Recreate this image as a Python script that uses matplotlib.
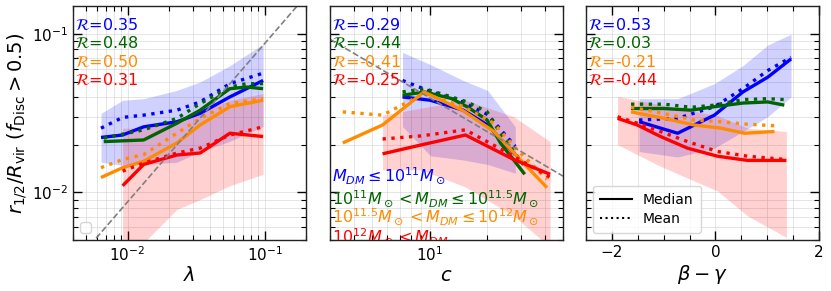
import numpy as np
import matplotlib
matplotlib.use("Agg")
import matplotlib.pyplot as plt
from matplotlib.ticker import MultipleLocator
from matplotlib.lines import Line2D

# ---------------- Panel 1: lambda ----------------
lam_blue_x = [0.0064, 0.0092, 0.0131, 0.0229, 0.0338, 0.0557, 0.0973]
lam_blue_med = [0.0222, 0.0230, 0.0259, 0.0279, 0.0315, 0.0400, 0.0508]
lam_blue_mean = [0.0254, 0.0297, 0.0307, 0.0330, 0.0372, 0.0485, 0.0565]
lam_blue_hi = [0.0315, 0.0381, 0.0390, 0.0440, 0.0497, 0.0630, 0.0862]
lam_blue_lo = [0.0155, 0.0148, 0.0150, 0.0155, 0.0180, 0.0210, 0.0260]

lam_green_x = [0.0067, 0.0131, 0.0229, 0.0338, 0.0557, 0.0736, 0.0973]
lam_green_med = [0.0209, 0.0214, 0.0273, 0.0330, 0.0451, 0.0462, 0.0451]
lam_green_mean = [0.0220, 0.0248, 0.0293, 0.0363, 0.0462, 0.0485, 0.0485]

lam_orange_x = [0.0064, 0.0092, 0.0131, 0.0229, 0.0338, 0.0557, 0.0973]
lam_orange_med = [0.0124, 0.0143, 0.0157, 0.0205, 0.0266, 0.0347, 0.0381]
lam_orange_mean = [0.0143, 0.0161, 0.0173, 0.0236, 0.0293, 0.0363, 0.0390]

lam_red_x = [0.0092, 0.0131, 0.0229, 0.0338, 0.0557, 0.0973]
lam_red_med = [0.0110, 0.0150, 0.0172, 0.0177, 0.0236, 0.0225]
lam_red_mean = [0.0136, 0.0153, 0.0177, 0.0190, 0.0230, 0.0259]
lam_red_hi = [0.0254, 0.0254, 0.0286, 0.0322, 0.0381, 0.0420]
lam_red_lo = [0.0030, 0.0048, 0.0078, 0.0090, 0.0110, 0.0130]
lam_R = ["0.35", "0.48", "0.50", "0.31"]

# ---------------- Panel 2: c ----------------
c_blue_x = [7.2, 10.1, 15.0, 20.1, 28.1]
c_blue_med = [0.0400, 0.0381, 0.0330, 0.0266, 0.0173]
c_blue_mean = [0.0508, 0.0433, 0.0370, 0.0310, 0.0195]
c_blue_hi = [0.0764, 0.0640, 0.0508, 0.0440, 0.0259]
c_blue_lo = [0.0260, 0.0170, 0.0160, 0.0150, 0.0132]

c_green_x = [7.2, 9.4, 13.0, 15.7, 20.0, 23.5, 31.5]
c_green_med = [0.0410, 0.0430, 0.0391, 0.0347, 0.0286, 0.0205, 0.0130]
c_green_mean = [0.0430, 0.0451, 0.0400, 0.0372, 0.0322, 0.0236, 0.0146]

c_orange_x = [3.5, 5.66, 9.33, 14.8, 21.7, 28.7, 41.2]
c_orange_med = [0.0205, 0.0266, 0.0430, 0.0330, 0.0242, 0.0169, 0.0107]
c_orange_mean = [0.0322, 0.0307, 0.0420, 0.0350, 0.0273, 0.0186, 0.0121]

c_red_x = [5.66, 9.0, 15.4, 27.6, 42.8]
c_red_med = [0.0175, 0.0199, 0.0230, 0.0161, 0.0130]
c_red_mean = [0.0217, 0.0227, 0.0248, 0.0169, 0.0124]
c_red_hi = [0.0307, 0.0340, 0.0381, 0.0300, 0.0209]
c_red_lo = [0.0139, 0.0139, 0.0108, 0.0071, 0.0045]
c_R = ["-0.29", "-0.44", "-0.41", "-0.25"]

# ---------------- Panel 3: beta - gamma ----------------
bg_blue_x = [-1.475, -0.73, -0.02, 0.53, 1.01, 1.46]
bg_blue_med = [0.0279, 0.0236, 0.0307, 0.0430, 0.0533, 0.0695]
bg_blue_mean = [0.0286, 0.0293, 0.0347, 0.0451, 0.0587, 0.0711]
bg_blue_hi = [0.0390, 0.0390, 0.0485, 0.0630, 0.0850, 0.0995]
bg_blue_lo = [0.0181, 0.0167, 0.0190, 0.0242, 0.0300, 0.0400]

bg_green_x = [-1.63, -0.99, -0.47, -0.02, 0.53, 1.01, 1.33]
bg_green_med = [0.0338, 0.0338, 0.0330, 0.0347, 0.0366, 0.0372, 0.0355]
bg_green_mean = [0.0360, 0.0360, 0.0344, 0.0355, 0.0385, 0.0390, 0.0385]

bg_orange_x = [-1.63, -0.99, -0.41, 0.11, 0.56, 1.14]
bg_orange_med = [0.0322, 0.0293, 0.0266, 0.0254, 0.0236, 0.0242]
bg_orange_mean = [0.0344, 0.0314, 0.0286, 0.0279, 0.0270, 0.0263]

bg_red_x = [-1.89, -1.51, -1.06, -0.54, 0.04, 0.62, 1.37]
bg_red_med = [0.0293, 0.0266, 0.0225, 0.0190, 0.0169, 0.0159, 0.0159]
bg_red_mean = [0.0300, 0.0273, 0.0242, 0.0209, 0.0181, 0.0169, 0.0161]
bg_red_hi = [0.0403, 0.0381, 0.0357, 0.0330, 0.0305, 0.0254, 0.0242]
bg_red_lo = [0.0200, 0.0173, 0.0146, 0.0123, 0.0102, 0.0071, 0.0052]
bg_R = ["0.53", "0.03", "-0.21", "-0.44"]

mass_labels = [r"$M_{DM} \leq 10^{11}M_\odot$",
               r"$10^{11}M_\odot < M_{DM} \leq 10^{11.5}M_\odot$",
               r"$10^{11.5}M_\odot < M_{DM} \leq 10^{12}M_\odot$",
               r"$10^{12}M_\odot < M_{DM}$"]

colors = ["blue", "darkgreen", "darkorange", "red"]

W, H = 831, 291
fig = plt.figure(figsize=(W / 100, H / 100), dpi=100)

def add_ax(x0, x1, y0=6, y1=240):
    return fig.add_axes([x0 / W, 1 - y1 / H, (x1 - x0) / W, (y1 - y0) / H])

ax1 = add_ax(73, 306)
ax2 = add_ax(330, 563)
ax3 = add_ax(586, 819)
axes = [ax1, ax2, ax3]

LW = 2.4

def draw(ax, series, bands):
    for (x, lo, hi, col) in bands:
        ax.fill_between(x, lo, hi, color=col, alpha=0.18, lw=0)
    for (x, med, mean, col) in series:
        ax.plot(x, med, color=col, lw=LW, ls="-", solid_capstyle="butt")
        ax.plot(x, mean, color=col, lw=LW, ls=":")

draw(ax1,
     [(lam_blue_x, lam_blue_med, lam_blue_mean, colors[0]),
      (lam_green_x, lam_green_med, lam_green_mean, colors[1]),
      (lam_orange_x, lam_orange_med, lam_orange_mean, colors[2]),
      (lam_red_x, lam_red_med, lam_red_mean, colors[3])],
     [(lam_blue_x, lam_blue_lo, lam_blue_hi, "blue"),
      (lam_red_x, lam_red_lo, lam_red_hi, "red")])
draw(ax2,
     [(c_blue_x, c_blue_med, c_blue_mean, colors[0]),
      (c_green_x, c_green_med, c_green_mean, colors[1]),
      (c_orange_x, c_orange_med, c_orange_mean, colors[2]),
      (c_red_x, c_red_med, c_red_mean, colors[3])],
     [(c_blue_x, c_blue_lo, c_blue_hi, "blue"),
      (c_red_x, c_red_lo, c_red_hi, "red")])
draw(ax3,
     [(bg_blue_x, bg_blue_med, bg_blue_mean, colors[0]),
      (bg_green_x, bg_green_med, bg_green_mean, colors[1]),
      (bg_orange_x, bg_orange_med, bg_orange_mean, colors[2]),
      (bg_red_x, bg_red_med, bg_red_mean, colors[3])],
     [(bg_blue_x, bg_blue_lo, bg_blue_hi, "blue"),
      (bg_red_x, bg_red_lo, bg_red_hi, "red")])

# reference dashed lines
xl = np.logspace(np.log10(0.004), np.log10(0.2), 50)
ax1.plot(xl, 0.87 * xl, color="grey", ls="--", lw=1.2)
xc = np.logspace(np.log10(3), np.log10(50), 50)
ax2.plot(xc, 0.201 * xc ** -0.707, color="grey", ls="--", lw=1.2)

ax1.set_xscale("log")
ax2.set_xscale("log")
ax1.set_xlim(0.004, 0.2)
ax2.set_xlim(3, 50)
ax3.set_xlim(-2.5, 2)
ax3.xaxis.set_major_locator(MultipleLocator(2))
ax3.xaxis.set_minor_locator(MultipleLocator(0.5))

for ax in axes:
    ax.set_yscale("log")
    ax.set_ylim(0.005, 0.15)
    ax.grid(True, which="both", color="#cccccc", lw=0.6, alpha=0.6)
    ax.set_axisbelow(True)
    ax.tick_params(which="both", direction="in", top=True, right=True, labelsize=11)
    ax.tick_params(which="major", length=6.5, width=1.0)
    ax.tick_params(which="minor", length=3.5, width=0.8)
    for s in ax.spines.values():
        s.set_linewidth(1.0)
        s.set_color("#222222")

ax2.tick_params(which="both", labelleft=False)
ax3.tick_params(which="both", labelleft=False)

ax1.set_xlabel(r"$\lambda$", fontsize=14, labelpad=2)
ax2.set_xlabel(r"$c$", fontsize=14, labelpad=2)
ax3.set_xlabel(r"$\beta-\gamma$", fontsize=14, labelpad=2)
ax1.set_ylabel(r"$r_{1/2}/R_{\rm vir}\ (f_{\rm Disc} > 0.5)$", fontsize=14, labelpad=2)

# correlation coefficient texts
ys = [0.919, 0.841, 0.762, 0.684]
for ax, Rs, x0 in [(ax1, lam_R, 0.009), (ax2, c_R, 0.007), (ax3, bg_R, 0.01)]:
    for r, col, yy in zip(Rs, colors, ys):
        ax.text(x0, yy, r"$\mathcal{R}$=" + r, color=col, fontsize=11.5,
                transform=ax.transAxes, va="center", ha="left")

# mass bin labels
ym = [0.275, 0.178, 0.0996, 0.0141]
for lab, col, yy in zip(mass_labels, colors, ym):
    ax2.text(0.007, yy, lab, color=col, fontsize=11.5, transform=ax2.transAxes,
             va="center", ha="left", clip_on=True)

# empty legend in panel 1
ax1.legend(handles=[], loc="lower left")

handles = [Line2D([], [], color="black", ls="-", lw=1.5),
           Line2D([], [], color="black", ls=":", lw=1.5)]
ax3.legend(handles, ["Median", "Mean"], loc="lower left", fontsize=10,
           handlelength=2.3, borderpad=0.5, labelspacing=0.4)

fig.savefig("out.png", dpi=100)
